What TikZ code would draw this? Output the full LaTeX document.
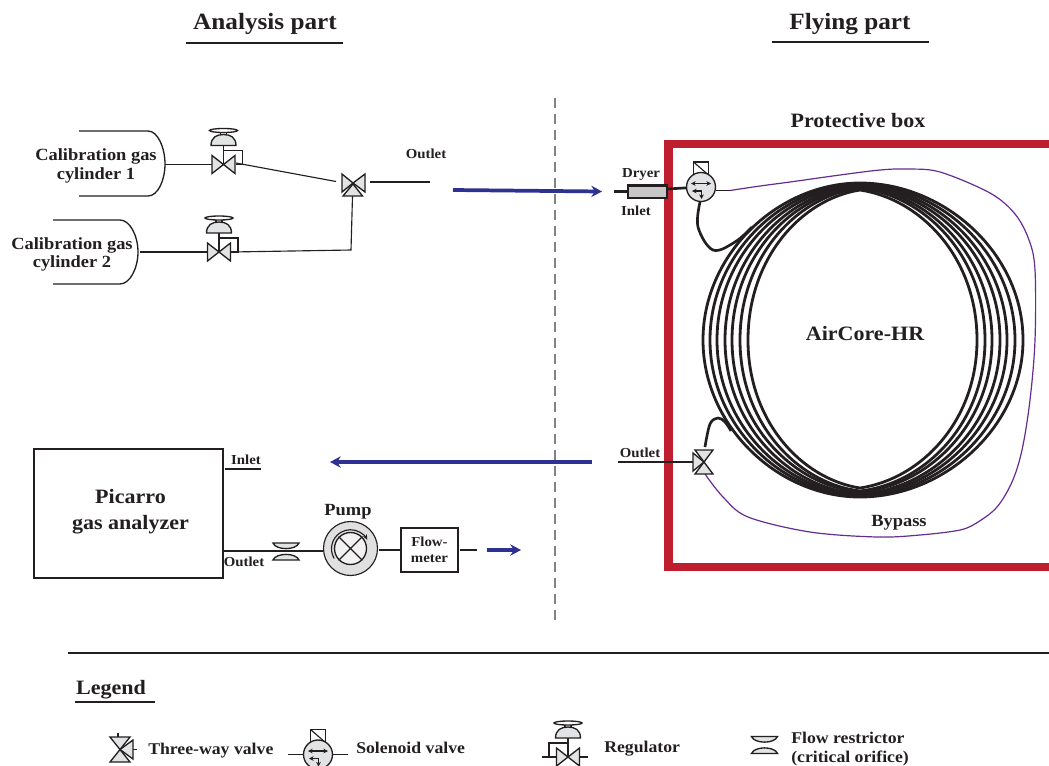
\documentclass[tikz,border=0pt]{standalone}
\usepackage{fontspec}
\setmainfont{Liberation Serif}[FakeStretch=1.08]
\usetikzlibrary{arrows.meta}
\definecolor{ink}{HTML}{231F20}
\definecolor{boxred}{HTML}{BE1E2D}
\definecolor{flowblue}{HTML}{2E3192}
\definecolor{bypasspurple}{HTML}{662D91}
\definecolor{valvegray}{HTML}{E2E3E4}
\definecolor{dashgray}{HTML}{808285}
\tikzset{
  txt/.style={font=\bfseries\fontsize{12.8}{14}\selectfont,text=ink,inner sep=0pt,align=center},
  legtxt/.style={font=\bfseries\fontsize{12.3}{15}\selectfont,text=ink,inner sep=0pt,align=center},
  smalltxt/.style={font=\bfseries\fontsize{10.3}{12}\selectfont,text=ink,inner sep=0pt,align=center},
  bigtxt/.style={font=\bfseries\fontsize{17.5}{20}\selectfont,text=ink,inner sep=0pt,align=center},
  midtxt/.style={font=\bfseries\fontsize{15.3}{18}\selectfont,text=ink,inner sep=0pt,align=center},
  thinline/.style={draw=ink,line width=0.85pt},
  thickline/.style={draw=ink,line width=2pt},
  rule/.style={draw=ink,line width=1.9pt},
  flowarrow/.style={draw=flowblue,line width=2.8pt,-{Stealth[length=8pt,width=8.5pt]}},
  coilring/.style={draw=ink,line width=2.1pt},
  partgray/.style={draw=ink,line width=1pt,fill=valvegray},
  pics/bowv/.style={code={\path[partgray](-9,-12)--(9,12)--(-9,12)--(9,-12)--cycle;}},
  pics/triright/.style={code={\path[partgray](0,0)--(12,-9)--(12,9)--cycle;}},
  pics/trileft/.style={code={\path[partgray](0,0)--(-11,-9)--(-11,9)--cycle;}},
  pics/regulator/.style={code={
    \path[thinline](0,0)--(0,-29);
    \path[thinline](0,-14)--(19,-14)--(19,0)--(12,0);
    \path[partgray](-12.5,-19) .. controls (-12.5,-27) and (-7,-30) .. (0,-30) .. controls (7,-30) and (12.5,-27) .. (12.5,-19)--cycle;
    \path[thinline](-3,-30)--(-3,-33) (3,-30)--(3,-33);
    \path[draw=ink,line width=1pt,fill=white](0,-34) ellipse (14 and 2);
    \path[partgray](-11.5,-9)--(11.5,9)--(11.5,-9)--(-11.5,9)--cycle;
  }},
  pics/solenoid/.style={code={
    \path[thinline,fill=white](-7.5,-25)rectangle(7.5,-12);
    \path[thinline](-7.5,-25)--(7.5,-12);
    \path[partgray](0,0)circle(14.5);
    \path[draw=ink,line width=0.9pt,{Stealth[length=3.5pt,width=3.5pt]}-{Stealth[length=3.5pt,width=3.5pt]}](-10,-3.5)--(10,-3.5);
    \path[draw=ink,line width=0.9pt,{Stealth[length=3.5pt,width=3.5pt]}-](-9,4)--(0.5,4);
    \path[draw=ink,line width=0.9pt,-{Stealth[length=3.5pt,width=3.5pt]}](0.5,4)--(0.5,12);
  }},
  pics/restrictor/.style={code={
    \path[partgray](-13,-8.5) .. controls (-10,-1) and (10,-1) .. (13,-8.5)--cycle;
    \path[partgray](-13,8.5) .. controls (-10,1) and (10,1) .. (13,8.5)--cycle;
  }},
}
\begin{document}
\begin{tikzpicture}[x=0.75pt,y=-0.75pt]
\useasboundingbox (0,0) rectangle (1049,765);
\clip (0,0) rectangle (1049,765);
\fill[white] (0,0) rectangle (1049,765);

% titles
\node[bigtxt] (analysis) at (265,24) {Analysis part};
\node[bigtxt] (flying) at (850,24) {Flying part};
\coordinate (au1) at (186,43); \coordinate (au2) at (343,43);
\coordinate (fu1) at (772,42); \coordinate (fu2) at (929,42);
\draw[rule] (au1)--(au2);
\draw[rule] (fu1)--(fu2);
\coordinate (dash1) at (555,98); \coordinate (dash2) at (555,620);
\draw[draw=dashgray,line width=1.8pt,dash pattern=on 7.5pt off 4.5pt] (dash1)--(dash2);

% red box
\node[midtxt] (protective) at (858,120.5) {Protective box};
\draw[draw=boxred,line width=6.4pt] (1055,144)--(668.5,144)--(668.5,567)--(1055,567);

% cylinders
\draw[thinline,line width=1pt] (79,131)--(148,131) .. controls (158,131) and (165,148) .. (165,164) .. controls (165,180) and (158,196) .. (148,196)--(79,196);
\draw[thinline,line width=1pt] (53,220)--(120,220) .. controls (130,220) and (138,236) .. (138,252) .. controls (138,268) and (130,284) .. (120,284)--(53,284);
\node[txt] (cyl1) at (96,166) {Calibration gas\\cylinder 1};
\node[txt] (cyl2) at (72,254.5) {Calibration gas\\cylinder 2};

% valves upper left
\coordinate (cyl1out) at (165,164.5);
\coordinate (cyl2out) at (140,252);
\coordinate (reg1) at (223.5,164.5);
\coordinate (reg2) at (219,252);
\coordinate (tw) at (353,183);
\coordinate (twleft) at (336,181.5);
\coordinate (twbot) at (352.5,196);
\coordinate (twright) at (366,182);
\coordinate (outend) at (430,182);
\coordinate (reg1out) at (236,163);
\coordinate (reg2out) at (231,252);
\coordinate (twcorner) at (351,250);
\draw[thinline] (cyl1out)--(reg1);
\draw[thinline] (cyl2out)--(reg2);
\draw[thinline] (reg1out)--(twleft);
\draw[thinline] (reg2out)--(twcorner)--(twbot);
\pic at (reg1) {regulator};
\pic at (reg2) {regulator};
\pic at (tw) {trileft};
\pic at (tw) {triright};
\path[partgray] (353,184)--(343,196)--(362.5,196)--cycle;
\draw[thickline] (370,182)--(outend);
\node[smalltxt] (outlet1) at (426,153.5) {Outlet};

% blue arrows
\coordinate (fa1) at (453,190); \coordinate (fa2) at (602,191.5);
\draw[flowarrow] (fa1)--(fa2);
\coordinate (fb1) at (592,462); \coordinate (fb2) at (330,462);
\draw[flowarrow] (fb1)--(fb2);
\coordinate (fc1) at (487,550); \coordinate (fc2) at (521,550);
\draw[flowarrow] (fc1)--(fc2);

% coil
\foreach \L/\R/\T/\B/\S in {703/1023/183/497/0,710/1015/184/496/1.5,717/1007/185/495/3,725/1000/186/494/4.5,732/992/187/492/6,740/985/188/491/7.5,748/977/190/488/9}{
  \draw[coilring] (\L,340)
    .. controls (\L,{340-0.55*(340-\T)}) and ({860-0.52*(860-\L)},{\T+\S}) .. (860,\T)
    .. controls ({860+0.52*(\R-860)},{\T+\S}) and (\R,{340-0.55*(340-\T)}) .. (\R,340)
    .. controls (\R,{340+0.55*(\B-340)}) and ({860+0.52*(\R-860)},{\B-\S}) .. (860,\B)
    .. controls ({860-0.52*(860-\L)},{\B-\S}) and (\L,{340+0.55*(\B-340)}) .. (\L,340);
}
\node[midtxt] (aircore) at (865,333.5) {AirCore-HR};

% bypass
\coordinate (solright) at (716,190.5);
\coordinate (bypassstart) at (730,190.5);
\draw[thinline] (solright)--(bypassstart);
\draw[draw=bypasspurple,line width=0.9pt] plot[smooth,tension=0.55] coordinates {(bypassstart)(760,186)(790,182)(840,175)(880,170)(907,169)(940,172)(990,193)(1015,214)(1029,240)(1035,270)(1035,340)(1030,400)(1022,450)(1012,482)(997,507)(978,522)(960,530)(920,535)(877,537)(810,532)(748,517)(723,497)(705,474)};
\node[txt] (bypass) at (899,523) {Bypass};

% inlet with dryer
\coordinate (inletend) at (614,191.5);
\coordinate (dryerleft) at (628,191.5);
\coordinate (dryerright) at (667,189);
\coordinate (sol) at (701,187);
\draw[thickline] (inletend)--(dryerleft);
\draw[thickline] (dryerright)--(sol);
\draw[draw=ink,line width=1.6pt,fill=black!22] (628,185.5) rectangle (667,198);
\pic at (sol) {solenoid};
\node[smalltxt] (dryer) at (641,174.5) {Dryer};
\node[smalltxt] (inlet1) at (636,211) {Inlet};
\coordinate (solbot) at (700,202);
\coordinate (coilin) at (752,227);
\draw[thickline] plot[smooth,tension=0.6] coordinates {(solbot)(698,227)(713,250)(735,242)(coilin)};

% outlet valve
\coordinate (ov) at (704,462);
\coordinate (ovin) at (618,462);
\coordinate (ovcoil) at (731,431);
\draw[thickline] (ovin)--(ov);
\draw[thickline] plot[smooth,tension=0.6] coordinates {(705,447)(710,424)(718,418)(725,422)(ovcoil)};
\pic at (ov) {trileft};
\pic at (ov) {bowv};
\node[smalltxt] (outlet2) at (640,453) {Outlet};

% Picarro
\node[draw=ink,line width=0.8pt,minimum width=141.75pt,minimum height=96.75pt,inner sep=0pt] (picarro) at (128.5,513.5) {};
\node[midtxt] (picarrotxt) at (130.5,511.5) {Picarro\\[1pt]gas analyzer};
\coordinate (pin1) at (225,469); \coordinate (pin2) at (261,469);
\draw[thickline] (pin1)--(pin2);
\node[smalltxt] (inlet2) at (246,460) {Inlet};
\coordinate (pout) at (223,551);
\coordinate (pump) at (350.5,548.5);
\coordinate (rest) at (286,551.5);
\pic at (rest) {restrictor};
\draw[thickline] (pout)--(323,551);
\node[smalltxt] (outlet3) at (244,562) {Outlet};
\node[draw=ink,line width=0.85pt,fill=black!12,circle,minimum size=40.5pt,inner sep=0pt] (pumpc) at (pump) {};
\node[draw=ink,line width=1pt,fill=black!5,circle,minimum size=24pt,inner sep=0pt] (pumpi) at (pump) {};
\draw[thinline] (pumpi.45)--(pumpi.225) (pumpi.135)--(pumpi.315);
\draw[draw=ink,line width=0.85pt,-{Stealth[length=4pt,width=3.5pt]}] (334.2,558.5) arc[start angle=149,end angle=332,x radius=19,y radius=19];
\node[txt] (pumpt) at (348,512) {Pump};
\node[draw=ink,line width=0.85pt,fill=white,minimum width=42.75pt,minimum height=33pt,inner sep=0pt,smalltxt] (flow) at (429.5,550) {Flow-\\meter};
\coordinate (pumpout) at (379,550);
\coordinate (flowend) at (477,550);
\draw[thickline] (pumpout)--(flow.west);
\draw[thickline] (460,550)--(flowend);

% Legend
\coordinate (lr1) at (68,653); \coordinate (lr2) at (1049,653);
\draw[rule] (lr1)--(lr2);
\node[midtxt] (legend) at (111,689.5) {Legend};
\coordinate (lu1) at (75,702); \coordinate (lu2) at (155,702);
\draw[rule] (lu1)--(lu2);

% legend three-way
\coordinate (l3) at (120,749.5);
\draw[thinline] (118,733)--(118,737) (133,749.5)--(137,749.5);
\path[partgray] (l3)--(110,737)--(130,737)--cycle;
\path[partgray] (l3)--(110,762)--(130,762)--cycle;
\path[partgray] (l3)--(133,740)--(133,759)--cycle;
\node[legtxt,anchor=west] (ltw) at (148,750.5) {Three-way valve};

% legend solenoid
\coordinate (ls) at (318,754.5);
\coordinate (ls1) at (288,754.5); \coordinate (ls2) at (348,754.5);
\draw[thinline] (ls1)--(ls2);
\pic at (ls) {solenoid};
\node[legtxt,anchor=west] (lsol) at (356,748) {Solenoid valve};

% legend regulator
\coordinate (lreg) at (568,757);
\coordinate (lreg1) at (542,757); \coordinate (lreg2) at (588,757);
\draw[thinline] (lreg1)--(lreg2);
\pic[xscale=-1] at (lreg) {regulator};
\node[legtxt,anchor=west] (lregt) at (604,748.5) {Regulator};

% legend restrictor
\coordinate (lrest) at (764.5,745);
\pic at (lrest) {restrictor};
\node[legtxt,anchor=west] (lfr) at (791,737.5) {Flow restrictor};
\node[legtxt,anchor=west] (lco) at (791,758) {(critical orifice)};
\end{tikzpicture}
\end{document}
